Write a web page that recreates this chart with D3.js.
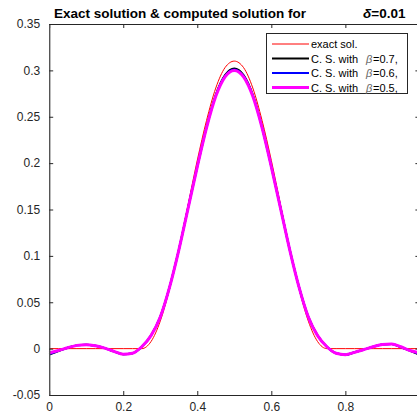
<!DOCTYPE html>
<html>
<head>
<meta charset="utf-8">
<script src="https://cdn.jsdelivr.net/npm/d3@7"></script>
<style>
html,body{margin:0;padding:0;background:#fff;}
svg{display:block;font-family:"Liberation Sans",Arial,Helvetica,sans-serif;}
</style>
</head>
<body>
<svg id="chart" width="417" height="418"></svg>
<script>
// ---- data ----
const xs = [0,0.025,0.05,0.075,0.1,0.125,0.15,0.175,0.2,0.225,0.25,0.275,0.3,0.325,0.35,0.375,0.4,0.425,0.45,0.475,0.5,
            0.525,0.55,0.575,0.6,0.625,0.65,0.675,0.7,0.725,0.75,0.775,0.8,0.825,0.85,0.875,0.9,0.925,0.95,0.975,1.0];
const exactSol = [0,0,0,0,0,0,0,0,0,0,0,0.0076,0.0296,0.064,0.107,0.155,0.203,0.246,0.281,0.303,0.310,
                  0.303,0.281,0.246,0.203,0.155,0.107,0.064,0.0296,0.0076,0,0,0,0,0,0,0,0,0,0,0];
const beta07 = [-0.0065,-0.0025,0.001,0.0035,0.0043,0.003,0.0005,-0.003,-0.006,-0.005,0.002,0.0142,0.0342,0.0662,0.1062,0.1515,0.1965,0.2388,0.2735,0.2948,0.302,
                0.2948,0.2735,0.2388,0.1965,0.1515,0.1062,0.0662,0.0342,0.0142,0.002,-0.005,-0.0065,-0.004,-0.001,0.002,0.0045,0.005,0.0015,-0.0025,-0.0065];
const beta06 = [-0.006,-0.0023,0.001,0.0035,0.0043,0.003,0.0005,-0.003,-0.006,-0.005,0.002,0.0141,0.0341,0.0661,0.1061,0.151,0.196,0.2384,0.2728,0.294,0.301,
                0.294,0.2728,0.2384,0.196,0.151,0.1061,0.0661,0.0341,0.0141,0.002,-0.005,-0.0065,-0.004,-0.001,0.002,0.0045,0.005,0.0017,-0.0022,-0.006];
const beta05 = [-0.0045,-0.002,0.001,0.0035,0.0043,0.003,0.0005,-0.003,-0.006,-0.005,0.002,0.014,0.034,0.066,0.106,0.151,0.196,0.238,0.272,0.293,0.300,
                0.293,0.272,0.238,0.196,0.151,0.106,0.066,0.034,0.014,0.002,-0.005,-0.0065,-0.004,-0.001,0.002,0.0045,0.005,0.002,-0.002,-0.0045];
const xTicks = [0,0.2,0.4,0.6,0.8,1];
const yTicks = [-0.05,0,0.05,0.1,0.15,0.2,0.25,0.3,0.35];
const seriesNames = ["exact sol.","C. S. with","C. S. with","C. S. with"];
const betaLabels = [null,"=0.7,","=0.6,","=0.5,"];
const seriesColors = ["#ff0000","#000000","#0000ff","#ff00ff"];
const seriesWidths = [1,2,2,3];
const seriesData = [exactSol,beta07,beta06,beta05];

// ---- layout ----
const svg = d3.select("#chart");
const L = 49.2, R = 419.4, T = 24, B = 395;
const x = d3.scaleLinear().domain([0,1]).range([L,R]);
const y = d3.scaleLinear().domain([-0.05,0.35]).range([B,T]);
const axisColor = "#262626";

// lines
const line = d3.line().x((d,i)=>x(xs[i])).y(d=>y(d)).curve(d3.curveMonotoneX);
const g = svg.append("g");
seriesData.forEach((s,k)=>{
  g.append("path").datum(s).attr("d",line).attr("fill","none")
   .attr("stroke",seriesColors[k]).attr("stroke-width",seriesWidths[k])
   .attr("stroke-linejoin","round");
});

// axes
function styleAxis(sel){
  sel.selectAll("path").attr("stroke",axisColor);
  sel.selectAll("line").attr("stroke",axisColor);
  sel.selectAll("text").attr("fill",axisColor).attr("font-size","12px")
     .attr("font-family","'Liberation Sans',Arial,Helvetica,sans-serif");
}
const fmt = d=> d===0 ? "0" : String(d);
const xb = svg.append("g").attr("transform",`translate(0,${B})`)
  .call(d3.axisBottom(x).tickValues(xTicks.slice(0,5)).tickFormat(fmt).tickSizeInner(-4).tickSizeOuter(0).tickPadding(7.5));
styleAxis(xb);
const xt = svg.append("g").attr("transform",`translate(0,${T})`)
  .call(d3.axisTop(x).tickValues(xTicks).tickFormat("").tickSizeInner(-4).tickSizeOuter(0));
styleAxis(xt);
const yl = svg.append("g").attr("transform",`translate(${L},0)`)
  .call(d3.axisLeft(y).tickValues(yTicks).tickFormat(fmt).tickSizeInner(-4).tickSizeOuter(0).tickPadding(9));
styleAxis(yl);
yl.select("path").attr("stroke","#555").attr("stroke-width",1.4);
const yr = svg.append("g").attr("transform",`translate(${R},0)`)
  .call(d3.axisRight(y).tickValues(yTicks).tickFormat("").tickSizeInner(-4).tickSizeOuter(0));
styleAxis(yr);

// title
const title = svg.append("text").attr("y",18).attr("font-size","13.5px").attr("font-weight","bold").attr("fill","#000");
title.append("tspan").attr("x",54).text("Exact solution & computed solution for");
const t2 = svg.append("text").attr("x",363).attr("y",18).attr("font-size","13.5px").attr("font-weight","bold").attr("fill","#000");
t2.append("tspan").attr("font-style","italic").text("δ");
t2.append("tspan").text("=0.01");

// legend
const lg = svg.append("g");
lg.append("rect").attr("x",266.5).attr("y",33.5).attr("width",141).attr("height",60)
  .attr("fill","#fff").attr("stroke",axisColor).attr("stroke-width",1);
const rowY = [44,58.5,73,87.5];
seriesNames.forEach((n,k)=>{
  lg.append("line").attr("x1",272).attr("x2",309).attr("y1",rowY[k]).attr("y2",rowY[k])
    .attr("stroke",seriesColors[k]).attr("stroke-width",seriesWidths[k]);
  const t = lg.append("text").attr("x",311).attr("y",rowY[k]+4).attr("font-size","11px").attr("fill","#000");
  t.append("tspan").text(n);
  if(betaLabels[k]){
    lg.append("text").attr("x",366).attr("y",rowY[k]+4).attr("font-size","11px")
      .attr("font-style","italic").attr("fill","#666").text("β");
    lg.append("text").attr("x",373).attr("y",rowY[k]+4).attr("font-size","11px").attr("fill","#000").text(betaLabels[k]);
  }
});
</script>
</body>
</html>
